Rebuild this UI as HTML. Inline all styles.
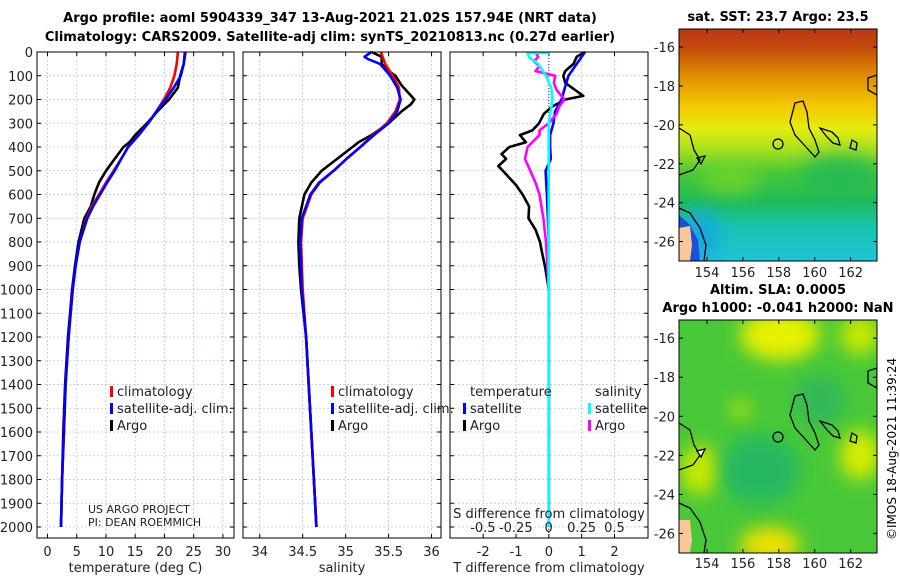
<!DOCTYPE html>
<html><head><meta charset="utf-8"><style>
body{margin:0;background:#fff}
svg{display:block;font-family:"DejaVu Sans","Liberation Sans",sans-serif}
</style></head><body>
<svg id="fig" width="900" height="580" viewBox="0 0 900 580">
<defs>
<linearGradient id="sstg" x1="0" y1="0" x2="0" y2="1">
<stop offset="0" stop-color="#b83814"/><stop offset="0.08" stop-color="#c44a0c"/>
<stop offset="0.2" stop-color="#e08c00"/><stop offset="0.33" stop-color="#f2c800"/>
<stop offset="0.43" stop-color="#e4ec10"/><stop offset="0.52" stop-color="#a8e020"/>
<stop offset="0.62" stop-color="#48c838"/><stop offset="0.74" stop-color="#20bb58"/>
<stop offset="0.86" stop-color="#18c4b0"/><stop offset="1" stop-color="#20c4d8"/>
</linearGradient>
<filter id="blur" x="-50%" y="-50%" width="200%" height="200%"><feGaussianBlur stdDeviation="9"/></filter>
<clipPath id="c1"><rect x="679" y="29" width="198" height="232"/></clipPath>
<clipPath id="c2"><rect x="679" y="320" width="198" height="233"/></clipPath>
</defs>
<g id="titles">
<text x="330" y="22" font-size="13" font-weight="bold" text-anchor="middle">Argo profile: aoml 5904339_347 13-Aug-2021 21.02S 157.94E (NRT data)</text>
<text x="330" y="41" font-size="13" font-weight="bold" text-anchor="middle">Climatology: CARS2009. Satellite-adj clim: synTS_20210813.nc (0.27d earlier)</text>
</g>
<g id="plots"></g>
<g id="maps">
<text x="778" y="21" font-size="13" font-weight="bold" text-anchor="middle">sat. SST: 23.7 Argo: 23.5</text>
<g clip-path="url(#c1)">
<rect x="679" y="29" width="198" height="232" fill="url(#sstg)"/>
<ellipse cx="700" cy="235" rx="20" ry="25" fill="#18a8e0" filter="url(#blur)"/>
<ellipse cx="840" cy="175" rx="40" ry="20" fill="#20b858" filter="url(#blur)" opacity="0.8"/>
<ellipse cx="730" cy="180" rx="30" ry="14" fill="#80d828" filter="url(#blur)" opacity="0.7"/>
<path d="M679,215 L690,225 L698,240 L700,261 L679,261Z" fill="#1d4fd8"/>
<path d="M679,228 L690,226 L692,245 L690,261 L679,261Z" fill="#f8c898"/>
<path d="M679,128 L690,135 L694,150 L700,160 L693,170 L679,175" fill="none" stroke="#000" stroke-width="1.3"/>
<path d="M679,208 L690,213 L700,228 L706,245 L704,261" fill="none" stroke="#000" stroke-width="1.3"/>
<path d="M795,103 L803,101 L807,112 L809,128 L815,140 L819,152 L815,157 L806,147 L795,135 L790,122Z" fill="none" stroke="#000" stroke-width="1.3"/>
<path d="M820,128 L832,132 L838,138 L840,145 L833,143 L827,137Z" fill="none" stroke="#000" stroke-width="1.3"/>
<path d="M852,140 L857,143 L856,150 L850,148Z" fill="none" stroke="#000" stroke-width="1.3"/>
<path d="M868,78 L877,75 L877,95 L868,90Z" fill="none" stroke="#000" stroke-width="1.3"/>
<circle cx="778" cy="144" r="5" fill="none" stroke="#000" stroke-width="1.3"/>
<path d="M697,158 L705,156 L701,164Z" fill="none" stroke="#000" stroke-width="1.3"/>
</g>
<rect x="679" y="29" width="198" height="232" fill="none" stroke="#000" stroke-width="1"/>
<text x="778" y="294" font-size="13" font-weight="bold" text-anchor="middle">Altim. SLA: 0.0005</text>
<text x="778" y="312" font-size="13" font-weight="bold" text-anchor="middle">Argo h1000: -0.041 h2000: NaN</text>
<g clip-path="url(#c2)">
<rect x="679" y="320" width="198" height="233" fill="#48c838"/>
<ellipse cx="780" cy="335" rx="40" ry="25" fill="#e8f000" filter="url(#blur)"/>
<ellipse cx="860" cy="335" rx="20" ry="20" fill="#c8e800" filter="url(#blur)"/>
<ellipse cx="860" cy="455" rx="20" ry="25" fill="#d8ec00" filter="url(#blur)"/>
<ellipse cx="770" cy="545" rx="30" ry="18" fill="#f0e000" filter="url(#blur)"/>
<ellipse cx="700" cy="470" rx="20" ry="25" fill="#c8e800" filter="url(#blur)"/>
<ellipse cx="740" cy="410" rx="10" ry="10" fill="#b0e010" filter="url(#blur)"/>
<ellipse cx="760" cy="470" rx="40" ry="35" fill="#28b860" filter="url(#blur)"/>
<ellipse cx="820" cy="400" rx="25" ry="25" fill="#30b858" filter="url(#blur)"/>
<path d="M679,520 L690,520 L692,540 L690,553 L679,553Z" fill="#f8c898"/>
<path d="M679,423 L690,430 L694,445 L700,455 L693,465 L679,470" fill="none" stroke="#000" stroke-width="1.3"/>
<path d="M679,503 L690,508 L700,522 L706,540 L704,553" fill="none" stroke="#000" stroke-width="1.3"/>
<path d="M795,396 L803,394 L807,405 L809,421 L815,433 L819,445 L815,450 L806,440 L795,428 L790,415Z" fill="none" stroke="#000" stroke-width="1.3"/>
<path d="M820,421 L832,425 L838,431 L840,438 L833,436 L827,430Z" fill="none" stroke="#000" stroke-width="1.3"/>
<path d="M852,433 L857,436 L856,443 L850,441Z" fill="none" stroke="#000" stroke-width="1.3"/>
<path d="M868,371 L877,368 L877,388 L868,383Z" fill="none" stroke="#000" stroke-width="1.3"/>
<circle cx="778" cy="437" r="5" fill="none" stroke="#000" stroke-width="1.3"/>
<path d="M697,451 L705,449 L701,457Z" fill="#fff" stroke="#000" stroke-width="1.3"/>
</g>
<rect x="679" y="320" width="198" height="233" fill="none" stroke="#000" stroke-width="1"/>
<text transform="translate(896,540) rotate(-90)" font-size="12">©IMOS 18-Aug-2021 11:39:24</text>
</g>
<g id="mapaxes"></g>
</svg>
<script>
// ---- Temperature panel data ----
const tDepthClim = [0,50,100,150,200,250,300,350,400,450,500,550,600,650,700,800,900,1000,1200,1400,1600,1800,2000];
const tClim = [22.3,22.1,21.7,21.0,19.9,18.6,17.2,15.6,13.8,12.6,11.3,10.0,8.8,7.6,6.7,5.5,4.8,4.3,3.6,3.1,2.8,2.5,2.3];
const tSat = [23.5,23.3,22.8,21.6,20.2,18.7,17.2,15.6,13.8,12.6,11.5,10.2,9.0,7.8,6.8,5.5,4.8,4.3,3.6,3.1,2.8,2.5,2.3];
const tDepthArgo = [0,50,100,150,200,250,300,350,380,400,450,500,550,600,650,700,800,900,1000,1200,1400,1600,1800,2000];
const tArgo = [23.6,23.3,22.7,22.3,20.8,18.8,17.0,15.0,14.0,13.0,11.5,10.0,8.8,8.0,7.4,6.3,5.3,4.7,4.2,3.5,3.0,2.7,2.5,2.3];
// ---- Salinity panel data ----
const sDepthClim = [0,20,30,50,100,150,200,250,300,350,400,450,500,550,600,700,800,1000,1200,1400,1600,1800,2000];
const sClim = [35.41,35.43,35.44,35.46,35.55,35.62,35.63,35.58,35.48,35.32,35.17,35.01,34.86,34.7,34.6,34.5,34.48,34.5,34.54,34.57,34.6,34.63,34.66];
const sSat = [35.3,35.22,35.26,35.4,35.52,35.6,35.64,35.6,35.5,35.33,35.17,35.01,34.86,34.69,34.59,34.49,34.47,34.49,34.54,34.57,34.6,34.63,34.66];
const sDepthArgo = [0,20,50,80,100,140,180,200,220,250,300,350,380,400,450,500,550,600,700,800,900,1000,1200,1400,1600,1800,2000];
const sArgo = [35.3,35.42,35.42,35.5,35.58,35.65,35.75,35.8,35.76,35.65,35.5,35.3,35.15,35.08,34.9,34.72,34.6,34.52,34.46,34.45,34.46,34.48,34.54,34.57,34.6,34.63,34.66];
// ---- Difference panel data ----
const dDepthArgoT = [0,20,50,80,100,130,160,185,200,230,260,300,330,350,380,400,430,450,480,500,530,560,600,650,700,750,800,850,900,950,1000,1500,2000];
const dArgoT = [1.1,0.85,0.75,0.5,0.44,0.5,0.8,1.05,0.5,0.1,-0.15,-0.3,-0.5,-0.88,-0.7,-1.2,-1.44,-1.3,-1.54,-1.4,-1.2,-1.0,-0.8,-0.6,-0.62,-0.4,-0.27,-0.2,-0.12,-0.06,0,0,0];
const dDepthSatT = [0,50,100,150,200,250,300,350,400,450,500,600,700,800,1000,2000];
const dSatT = [1.1,0.85,0.6,0.49,0.39,0.19,0.14,0.04,0.04,0.06,-0.1,-0.06,-0.03,0,0,0];
const dDepthArgoS = [0,20,40,60,80,100,130,160,200,230,260,300,330,350,400,450,500,550,600,700,800,1000,2000];
const dArgoS = [-0.1,-0.08,-0.11,-0.07,-0.1,0.05,0.04,0.06,0.12,0.08,0.06,0.0,-0.07,-0.07,-0.16,-0.18,-0.14,-0.1,-0.07,-0.04,-0.02,0,0];
const dDepthSatS = [0,20,50,100,150,200,300,400,1000,2000];
const dSatS = [-0.16,-0.15,-0.08,-0.02,0.02,0.03,0,0,0,0];
// ---- Axis tick arrays ----
const depthTicks = [0,100,200,300,400,500,600,700,800,900,1000,1100,1200,1300,1400,1500,1600,1700,1800,1900,2000];
const tempTicks = [0,5,10,15,20,25,30];
const salTicks = [34,34.5,35,35.5,36];
const dTTicks = [-2,-1,0,1,2];
const dSTicks = [-0.5,-0.25,0,0.25,0.5];
const lonTicks = [154,156,158,160,162];
const latTicks = [-16,-18,-20,-22,-24,-26];

const NS='http://www.w3.org/2000/svg';
const root=document.getElementById('plots');
function mk(tag,attrs,parent){const e=document.createElementNS(NS,tag);for(const k in attrs)e.setAttribute(k,attrs[k]);(parent||root).appendChild(e);return e;}
const TOP=52, BOT=538;
function yD(d){return TOP + d*0.2375;}
function scale(d0,d1,p0,p1){return v=>p0+(v-d0)/(d1-d0)*(p1-p0);}
const panels=[
 {x0:37,x1:234,sx:scale(-1.8,31.9,37,234),ticks:tempTicks,label:'temperature (deg C)',name:'temperature-panel'},
 {x0:243,x1:441,sx:scale(33.805,36.11,243,441),ticks:salTicks,label:'salinity',name:'salinity-panel'},
 {x0:450,x1:648,sx:scale(-3.01,3.02,450,648),ticks:dTTicks,label:'T difference from climatology',name:'difference-panel'}
];
panels.forEach((p,i)=>{
 const g=mk('g',{});
 
 
 depthTicks.forEach(d=>{const l=mk('line',{x1:p.x0,x2:p.x1,y1:yD(d),y2:yD(d),stroke:'#b8c4e8','stroke-width':0.8,'stroke-dasharray':'2,2'},g);
  
  });
 p.ticks.forEach(t=>{const x=p.sx(t);const l=mk('line',{x1:x,x2:x,y1:TOP,y2:BOT,stroke:'#b8c4e8','stroke-width':0.8,'stroke-dasharray':'2,2'},g);
  
  
  mk('line',{x1:x,x2:x,y1:BOT,y2:BOT-4,stroke:'#000'},g);mk('line',{x1:x,x2:x,y1:TOP,y2:TOP+4,stroke:'#000'},g);
  const tx=mk('text',{x:x,y:556,'font-size':13,'text-anchor':'middle',fill:'#222'},g);
  tx.textContent=String(t);
  
  });
 depthTicks.forEach(d=>{mk('line',{x1:p.x0,x2:p.x0+4,y1:yD(d),y2:yD(d),stroke:'#000'},g);mk('line',{x1:p.x1,x2:p.x1-4,y1:yD(d),y2:yD(d),stroke:'#000'},g);});
 const al=mk('text',{x:(p.x0+p.x1)/2,y:572,'font-size':13,'text-anchor':'middle',fill:'#222'},g);
 al.textContent=p.label;
 
 
 p.g=g;
});
depthTicks.forEach(d=>{const t=mk('text',{x:33,y:yD(d)+5,'font-size':13,'text-anchor':'end',fill:'#222'});
 t.textContent=String(d);
 
 });
function line(p,depths,vals,sx,color,name,w){
 const pts=depths.map((d,i)=>sx(vals[i]).toFixed(1)+','+yD(d).toFixed(1)).join(' ');
 const l=mk('polyline',{points:pts,fill:'none',stroke:color,'stroke-width':w||2.6,'stroke-linejoin':'round'},p.g);
 
 
}
const P=panels;
line(P[0],tDepthArgo,tArgo,P[0].sx,'#000','temp-argo-line');
line(P[0],tDepthClim,tClim,P[0].sx,'#f00','temp-climatology-line');
line(P[0],tDepthClim,tSat,P[0].sx,'#00f','temp-satellite-line');
line(P[1],sDepthArgo,sArgo,P[1].sx,'#000','sal-argo-line');
line(P[1],sDepthClim,sClim,P[1].sx,'#f00','sal-climatology-line');
line(P[1],sDepthClim,sSat,P[1].sx,'#00f','sal-satellite-line');
const sxS=scale(-0.75,0.755,450,648);
const z=mk('line',{x1:P[2].sx(0),x2:P[2].sx(0),y1:TOP,y2:BOT,stroke:'#333','stroke-width':1,'stroke-dasharray':'1,2'},P[2].g);


line(P[2],dDepthArgoT,dArgoT,P[2].sx,'#000','t-diff-argo-line');
line(P[2],dDepthSatT,dSatT,P[2].sx,'#00f','t-diff-satellite-line');
line(P[2],dDepthArgoS,dArgoS,sxS,'#f0f','s-diff-argo-line');
line(P[2],dDepthSatS,dSatS,sxS,'#0ff','s-diff-satellite-line');
const cyanTop=mk('line',{x1:sxS(-0.16),x2:sxS(0.003),y1:TOP+1,y2:TOP+1,stroke:'#0ff','stroke-width':2.6},P[2].g);


dSTicks.forEach(t=>{const tx=mk('text',{x:sxS(t),y:532,'font-size':13,'text-anchor':'middle',fill:'#222'},P[2].g);
 tx.textContent=String(t);
 
 });
const st=mk('text',{x:549,y:518,'font-size':13,'text-anchor':'middle',fill:'#222'},P[2].g);
st.textContent='S difference from climatology';


panels.forEach(p=>{const r=mk('rect',{x:p.x0,y:TOP,width:p.x1-p.x0,height:BOT-TOP,fill:'none',stroke:'#000','stroke-width':1},p.g);
 
 });
function leg(g,x,y,color,text){const m=mk('rect',{x:x,y:y-10,width:3,height:11,fill:color},g);
 
 
 const t=mk('text',{x:x+7,y:y,'font-size':13,fill:'#222'},g);t.textContent=text;
 
 }
[[P[0],110],[P[1],331]].forEach(([p,x])=>{leg(p.g,x,396,'#f00','climatology');leg(p.g,x,413,'#00f','satellite-adj. clim.');leg(p.g,x,430,'#000','Argo');});
const lt=mk('text',{x:470,y:396,'font-size':13,fill:'#222'},P[2].g);lt.textContent='temperature';


const ls=mk('text',{x:595,y:396,'font-size':13,fill:'#222'},P[2].g);ls.textContent='salinity';


leg(P[2].g,463,413,'#00f','satellite');leg(P[2].g,463,430,'#000','Argo');
leg(P[2].g,588,413,'#0ff','satellite');leg(P[2].g,588,430,'#f0f','Argo');
const c1=mk('text',{x:88,y:513,'font-size':11,fill:'#222'},P[0].g);c1.textContent='US ARGO PROJECT';


const c2=mk('text',{x:88,y:526,'font-size':11,fill:'#222'},P[0].g);c2.textContent='PI: DEAN ROEMMICH';


const ma=document.getElementById('mapaxes');
const lonX=scale(152.44,163.47,679,877);
[[29,261,277],[320,553,568]].forEach(([top,bot,ly])=>{
 const latY=scale(-15.07,-27.0,top,bot);
 lonTicks.forEach(l=>{const x=lonX(l);mk('line',{x1:x,x2:x,y1:bot,y2:bot-4,stroke:'#000'},ma);mk('line',{x1:x,x2:x,y1:top,y2:top+4,stroke:'#000'},ma);
  const t=mk('text',{x:x,y:ly,'font-size':13,'text-anchor':'middle',fill:'#222'},ma);t.textContent=String(l);
  
  });
 latTicks.forEach(l=>{const y=latY(l);mk('line',{x1:679,x2:683,y1:y,y2:y,stroke:'#000'},ma);mk('line',{x1:877,x2:873,y1:y,y2:y,stroke:'#000'},ma);
  const t=mk('text',{x:675,y:y+5,'font-size':13,'text-anchor':'end',fill:'#222'},ma);t.textContent=String(l);
  
  });
});
</script>
</body></html>
